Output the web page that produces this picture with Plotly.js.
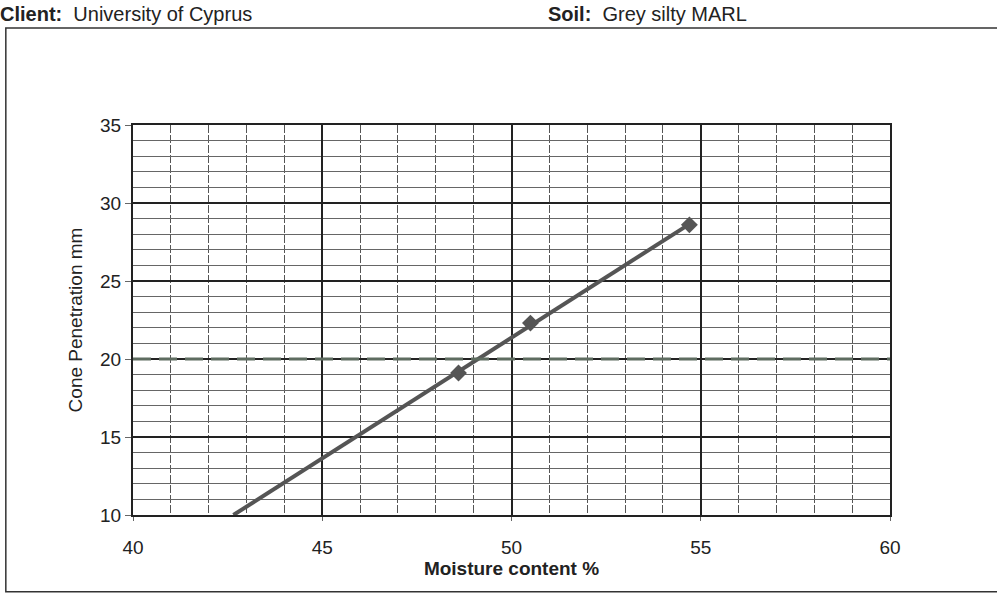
<!DOCTYPE html>
<html><head><meta charset="utf-8">
<script src="https://cdn.plot.ly/plotly-3.0.1.min.js"></script>
<style>html,body{margin:0;padding:0;background:#fff}#chart{width:997px;height:600px}</style>
</head><body><div id="chart"></div>
<script>
// Data
const moisture = [48.6, 50.5, 54.7];
const penetration = [19.1, 22.3, 28.6];
const referencePenetration = 20;
const xTicks = [40, 45, 50, 55, 60];
const yTicks = [10, 15, 20, 25, 30, 35];
const clientText = "<b>Client:</b>  University of Cyprus";
const soilText = "<b>Soil:</b>  Grey silty MARL";

// least-squares fit line, drawn from y=10 to last point
const n = moisture.length;
const mx = moisture.reduce((a,b)=>a+b,0)/n, my = penetration.reduce((a,b)=>a+b,0)/n;
let sxy=0, sxx=0;
for (let i=0;i<n;i++){ sxy+=(moisture[i]-mx)*(penetration[i]-my); sxx+=(moisture[i]-mx)**2; }
const slope = sxy/sxx, icpt = my - slope*mx;
const xStart = (10 - icpt)/slope, xEnd = Math.max(...moisture);

const traces = [
  {x:[xStart, xEnd], y:[icpt+slope*xStart, icpt+slope*xEnd], mode:'lines',
   line:{color:'#555', width:4}, hoverinfo:'skip', showlegend:false},
  {x:moisture, y:penetration, mode:'markers',
   marker:{symbol:'diamond', size:13, color:'#555'}, showlegend:false}
];

const layout = {
  width:997, height:600,
  margin:{l:133, r:107, t:125, b:85},
  paper_bgcolor:'#fff', plot_bgcolor:'#fff',
  font:{family:'Liberation Sans, Arial, sans-serif', color:'#222', size:19},
  showlegend:false,
  xaxis:{range:[40,60], tickvals:xTicks, ticks:'outside', ticklen:4, tickcolor:'#666',
    ticklabelstandoff:10, showgrid:true, gridcolor:'#222', gridwidth:2,
    showline:true, linecolor:'#222', linewidth:2, mirror:true, zeroline:false,
    minor:{dtick:1, showgrid:true, gridcolor:'#555', gridwidth:1, griddash:'8px,2px', ticks:''},
    title:{text:'<b>Moisture content %</b>', font:{size:19}, standoff:4}},
  yaxis:{range:[10,35], tickvals:yTicks, ticks:'outside', ticklen:6, tickcolor:'#666',
    showgrid:true, gridcolor:'#222', gridwidth:2,
    showline:true, linecolor:'#222', linewidth:2, mirror:true, zeroline:false,
    minor:{dtick:1, showgrid:true, gridcolor:'#666', gridwidth:1, ticks:''},
    title:{text:'Cone Penetration mm', font:{size:19}, standoff:12}},
  shapes:[
    {type:'line', xref:'x', yref:'y', x0:40, x1:60.3, y0:referencePenetration, y1:referencePenetration,
     line:{color:'#5e6c60', width:3, dash:'18px,8px'}},
    {type:'rect', xref:'paper', yref:'paper', x0:-0.168, x1:1.16, y0:-0.197, y1:1.249,
     line:{color:'#333', width:1.5}, fillcolor:'rgba(0,0,0,0)', layer:'below'}
  ],
  annotations:[
    {text:clientText, xref:'paper', yref:'paper', x:-0.178, y:1.318, xanchor:'left', yanchor:'top',
     showarrow:false, font:{size:20, color:'#222'}},
    {text:soilText, xref:'paper', yref:'paper', x:0.545, y:1.318, xanchor:'left', yanchor:'top',
     showarrow:false, font:{size:20, color:'#222'}}
  ]
};
Plotly.newPlot('chart', traces, layout, {displayModeBar:false, staticPlot:true});
</script></body></html>
